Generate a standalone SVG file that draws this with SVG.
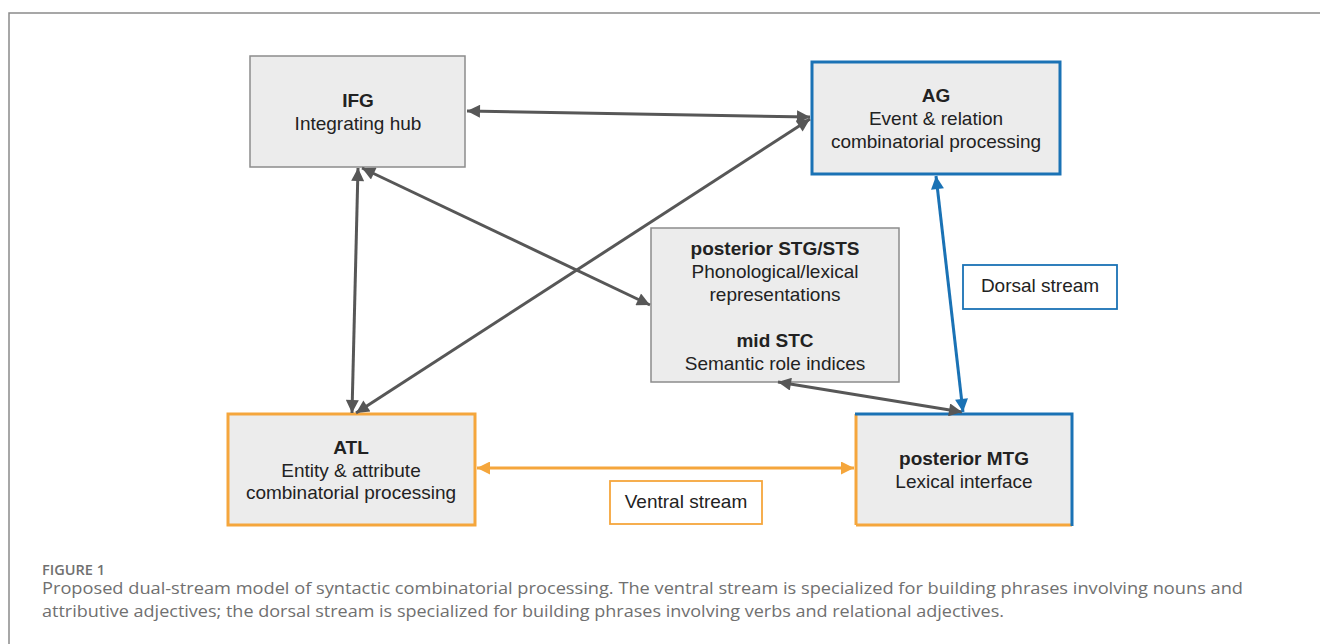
<svg xmlns="http://www.w3.org/2000/svg" width="1320" height="644" viewBox="0 0 1320 644">
<style>
.box{fill:#ececec;stroke:#8c8c8c;stroke-width:1.5}
.t{font-family:"Liberation Sans",Arial,sans-serif;font-size:19px;fill:#222;text-anchor:middle}
.b{font-weight:bold}
.c{stroke-width:3;fill:none}
.g{stroke:#575757}
.bl{stroke:#1a72b5}
.or{stroke:#f5a63c}
.cap{font-family:"Open Sans","Noto Sans",sans-serif;fill:#707070}
</style>
<defs>
<marker id="ag" viewBox="0 0 10 10" refX="10" refY="5" markerWidth="18" markerHeight="13" markerUnits="userSpaceOnUse" orient="auto-start-reverse"><path d="M0,0 L10,5 L0,10 z" fill="#575757"/></marker>
<marker id="ab" viewBox="0 0 10 10" refX="10" refY="5" markerWidth="18" markerHeight="13" markerUnits="userSpaceOnUse" orient="auto-start-reverse"><path d="M0,0 L10,5 L0,10 z" fill="#1a72b5"/></marker>
<marker id="ao" viewBox="0 0 10 10" refX="10" refY="5" markerWidth="18" markerHeight="13" markerUnits="userSpaceOnUse" orient="auto-start-reverse"><path d="M0,0 L10,5 L0,10 z" fill="#f5a63c"/></marker>
</defs>
<rect width="1320" height="644" fill="#fff"/>
<path d="M9,644 V13 H1320" fill="none" stroke="#8a8a8a" stroke-width="1.5"/>

<g id="IFG">
<rect class="box" x="250" y="56" width="215" height="111"/>
<text class="t b" x="358" y="107">IFG</text>
<text class="t" x="358" y="130">Integrating hub</text>
</g>

<g id="AG">
<rect x="812" y="62" width="248" height="112" fill="#ececec" stroke="#1a72b5" stroke-width="3"/>
<text class="t b" x="936" y="102">AG</text>
<text class="t" x="936" y="125">Event &amp; relation</text>
<text class="t" x="936" y="148">combinatorial processing</text>
</g>

<g id="STG">
<rect class="box" x="651" y="228" width="248" height="154"/>
<text class="t b" x="775" y="255">posterior STG/STS</text>
<text class="t" x="775" y="278">Phonological/lexical</text>
<text class="t" x="775" y="301">representations</text>
<text class="t b" x="775" y="347">mid STC</text>
<text class="t" x="775" y="370">Semantic role indices</text>
</g>

<g id="ATL">
<rect x="228" y="414" width="247" height="111" fill="#ececec" stroke="#f5a63c" stroke-width="3"/>
<text class="t b" x="351" y="454">ATL</text>
<text class="t" x="351" y="477">Entity &amp; attribute</text>
<text class="t" x="351" y="499">combinatorial processing</text>
</g>

<g id="MTG">
<rect x="856" y="414" width="216" height="111" fill="#ececec"/>
<path d="M856,525 V414" stroke="#f5a63c" stroke-width="3" fill="none"/>
<path d="M856,525 H1072" stroke="#f5a63c" stroke-width="3" fill="none"/>
<path d="M855,414 H1072 V526" stroke="#1a72b5" stroke-width="3" fill="none"/>
<text class="t b" x="964" y="465">posterior MTG</text>
<text class="t" x="964" y="488">Lexical interface</text>
</g>

<g id="dorsal">
<rect x="963" y="265" width="154" height="44" fill="#fff" stroke="#1a72b5" stroke-width="1.8"/>
<text class="t" x="1040" y="292">Dorsal stream</text>
</g>

<g id="ventral">
<rect x="610" y="481" width="152" height="43" fill="#fff" stroke="#f5a63c" stroke-width="1.8"/>
<text class="t" x="686" y="508">Ventral stream</text>
</g>

<g id="connectors">
<line class="c g" x1="467" y1="111" x2="810" y2="117" marker-start="url(#ag)" marker-end="url(#ag)"/>
<line class="c g" x1="358" y1="168" x2="352" y2="413" marker-start="url(#ag)" marker-end="url(#ag)"/>
<line class="c g" x1="362" y1="168" x2="650" y2="305" marker-start="url(#ag)" marker-end="url(#ag)"/>
<line class="c g" x1="356" y1="413" x2="810" y2="119" marker-start="url(#ag)" marker-end="url(#ag)"/>
<line class="c g" x1="778" y1="382" x2="962" y2="412" marker-start="url(#ag)" marker-end="url(#ag)"/>
<line class="c bl" x1="936" y1="176" x2="963" y2="412" marker-start="url(#ab)" marker-end="url(#ab)"/>
<line class="c or" x1="477" y1="468" x2="854" y2="468" marker-start="url(#ao)" marker-end="url(#ao)"/>
</g>

<g id="caption">
<text class="cap" x="42" y="575" font-size="14" font-weight="600" textLength="63" lengthAdjust="spacingAndGlyphs">FIGURE 1</text>
<text class="cap" x="42" y="594" font-size="16" textLength="1201" lengthAdjust="spacingAndGlyphs">Proposed dual-stream model of syntactic combinatorial processing. The ventral stream is specialized for building phrases involving nouns and</text>
<text class="cap" x="42" y="617" font-size="16" textLength="962" lengthAdjust="spacingAndGlyphs">attributive adjectives; the dorsal stream is specialized for building phrases involving verbs and relational adjectives.</text>
</g>
</svg>
